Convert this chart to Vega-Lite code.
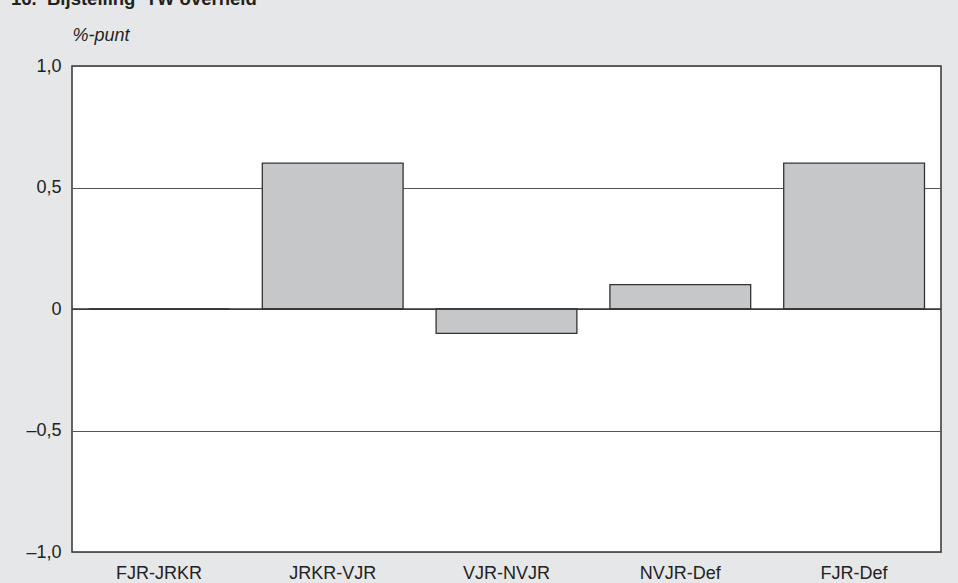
{
  "$schema": "https://vega.github.io/schema/vega-lite/v6.json",
  "width": 869,
  "height": 486,
  "autosize": {"type": "none"},
  "padding": {"left": 72, "top": 66, "right": 17, "bottom": 31},
  "background": "#e6e7e8",
  "title": {
    "text": "16.\u00a0\u00a0Bijstelling\u00a0\u00a0TW overheid",
    "frame": "group",
    "anchor": "start",
    "orient": "top",
    "baseline": "alphabetic",
    "offset": 3,
    "dx": -61,
    "font": "Liberation Sans",
    "fontSize": 18.5,
    "fontWeight": "bold",
    "color": "#222222"
  },
  "config": {
    "view": {"fill": "white", "stroke": "#333333", "strokeWidth": 1.5},
    "font": "Liberation Sans"
  },
  "layer": [
    {
      "data": {"values": [
        {"periode": "FJR-JRKR", "waarde": 0},
        {"periode": "JRKR-VJR", "waarde": 0.6},
        {"periode": "VJR-NVJR", "waarde": -0.1},
        {"periode": "NVJR-Def", "waarde": 0.1},
        {"periode": "FJR-Def", "waarde": 0.6}
      ]},
      "mark": {"type": "bar", "fill": "#c6c7c8", "stroke": "#333333", "strokeWidth": 1.3},
      "encoding": {
        "x": {
          "field": "periode", "type": "nominal", "sort": null,
          "scale": {"paddingInner": 0.19, "paddingOuter": 0.095},
          "axis": {
            "title": null, "domain": false, "ticks": false, "labelAngle": 0,
            "labelFontSize": 18, "labelColor": "#222222", "labelPadding": 12
          }
        },
        "y": {
          "field": "waarde", "type": "quantitative",
          "scale": {"domain": [-1, 1], "nice": false},
          "axis": {
            "values": [-1, -0.5, 0, 0.5, 1],
            "labelExpr": "datum.value == 0 ? '0' : replace(replace(replace(format(datum.value, '.1f'), '.', ','), '\u2212', '\u2013'), '-', '\u2013')",
            "domain": false, "ticks": false, "grid": true,
            "gridColor": "#555555", "gridWidth": 1,
            "labelFontSize": 18, "labelColor": "#222222", "labelPadding": 11,
            "title": "%-punt", "titleAngle": 0, "titleX": 0, "titleY": -26,
            "titleAlign": "left", "titleBaseline": "alphabetic",
            "titleFontSize": 18, "titleFontStyle": "italic", "titleFontWeight": "normal",
            "titleColor": "#222222"
          }
        }
      }
    },
    {
      "data": {"values": [{"nul": 0}]},
      "mark": {"type": "rule", "stroke": "#333333", "strokeWidth": 1.5},
      "encoding": {"y": {"field": "nul", "type": "quantitative"}}
    }
  ]
}
